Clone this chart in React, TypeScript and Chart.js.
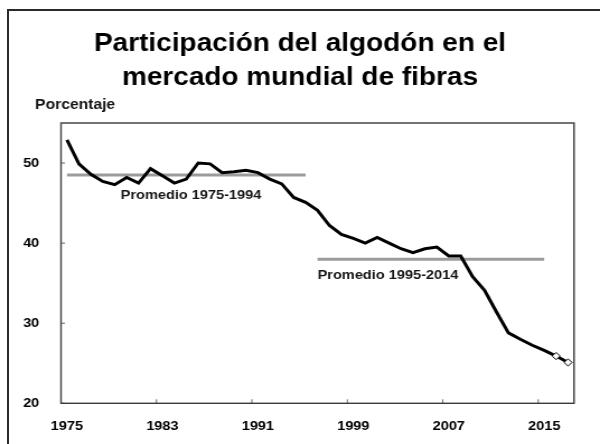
import React, { useEffect, useRef } from 'react';
import { Chart, registerables } from 'chart.js';

Chart.register(...registerables);

// ---- data ----
const titleLines = ['Participación del algodón en el', 'mercado mundial de fibras'];
const yAxisTitle = 'Porcentaje';

const years = [
  '1975', '1976', '1977', '1978', '1979', '1980', '1981', '1982', '1983', '1984',
  '1985', '1986', '1987', '1988', '1989', '1990', '1991', '1992', '1993', '1994',
  '1995', '1996', '1997', '1998', '1999', '2000', '2001', '2002', '2003', '2004',
  '2005', '2006', '2007', '2008', '2009', '2010', '2011', '2012', '2013', '2014',
  '2015', '2016', '2017',
];

const cottonShare = [
  52.9, 49.9, 48.6, 47.7, 47.3, 48.2, 47.5, 49.3, 48.4, 47.5,
  48.0, 50.0, 49.9, 48.8, 48.9, 49.1, 48.8, 48.0, 47.4, 45.7,
  45.1, 44.1, 42.2, 41.1, 40.6, 40.0, 40.7, 40.0, 39.3, 38.8,
  39.3, 39.5, 38.4, 38.4, 35.8, 34.1, 31.4, 28.8, 28.0, 27.25,
  26.6, 25.9, 25.1,
];

const projectedYears = ['2016', '2017'];

const averageLabels = ['Promedio 1975-1994', 'Promedio 1995-2014'];
const averageValues = [48.5, 38.0];
const averageFrom = ['1975', '1996'];
const averageTo = ['1995', '2015'];
// where each average label sits (category index, value of text baseline)
const averageLabelIndex = [4.5, 21];
const averageLabelValue = [45.5, 35.55];

const xTickLabels = ['1975', '1983', '1991', '1999', '2007', '2015'];
const yTickValues = [20, 30, 40, 50];
const yMin = 20;
const yMax = 55;

// ---- layout ----
const CANVAS_W = 536; // drawn width, displayed stretched to 600px like the reference
const STRETCH = 600 / CANVAS_W;
const FONT = "'Liberation Sans', Arial, Helvetica, sans-serif";
const RIGHT_GAP = 23.2;

export default function App() {
  const ref = useRef<HTMLCanvasElement>(null);

  useEffect(() => {
    const canvas = ref.current;
    if (!canvas) return;

    const avgDatasets = averageValues.map((v, k) => {
      const from = years.indexOf(averageFrom[k]);
      const to = years.indexOf(averageTo[k]);
      return {
        label: averageLabels[k],
        data: years.map((_, i) => (i >= from && i <= to ? v : null)),
        borderColor: '#9b9b9b',
        borderWidth: 3,
        pointRadius: 0,
        spanGaps: false,
        order: 2,
      };
    });

    const decor = {
      id: 'decor',
      afterDatasetsDraw(chart: any) {
        const { ctx, chartArea: a, scales } = chart;
        const x = scales.x;
        const y = scales.y;
        ctx.save();
        // inward tick marks
        ctx.strokeStyle = '#666';
        ctx.lineWidth = 1;
        ctx.beginPath();
        xTickLabels.forEach((l) => {
          const i = years.indexOf(l);
          if (i <= 0) return;
          const px = x.getPixelForValue(i - 0.5);
          ctx.moveTo(px, a.bottom);
          ctx.lineTo(px, a.bottom - 4);
        });
        yTickValues.forEach((v) => {
          const py = y.getPixelForValue(v);
          ctx.moveTo(a.left, py);
          ctx.lineTo(a.left + 4 / STRETCH, py);
        });
        ctx.stroke();
        // plot box
        ctx.strokeStyle = '#3a3a3a';
        ctx.lineWidth = 1.4;
        ctx.strokeRect(a.left, a.top, a.right - a.left, a.bottom - a.top);
        // average labels
        ctx.fillStyle = '#151515';
        ctx.textAlign = 'left';
        ctx.textBaseline = 'alphabetic';
        ctx.font = `bold 13px ${FONT}`;
        averageLabels.forEach((t, k) => {
          ctx.fillText(t, x.getPixelForValue(averageLabelIndex[k]), y.getPixelForValue(averageLabelValue[k]));
        });
        // y axis title
        ctx.font = `bold 14px ${FONT}`;
        ctx.fillText(yAxisTitle, a.left - 23.2, 109.3);
        ctx.restore();
      },
    };

    const chart = new Chart(canvas, {
      type: 'line',
      data: {
        labels: years,
        datasets: [
          {
            label: 'Participación del algodón',
            data: cottonShare,
            borderColor: '#000',
            borderWidth: 3,
            tension: 0,
            order: 1,
            pointStyle: 'rectRot',
            pointRadius: (c: any) => (projectedYears.includes(years[c.dataIndex]) ? 3.6 : 0),
            pointBackgroundColor: '#fff',
            pointBorderColor: '#000',
            pointBorderWidth: 1,
          },
          ...avgDatasets,
        ] as any,
      },
      options: {
        responsive: false,
        animation: false,
        devicePixelRatio: 1,
        layout: { padding: 0 },
        plugins: {
          legend: { display: false },
          tooltip: { enabled: false },
          title: {
            display: true,
            text: titleLines,
            color: '#000',
            font: { family: FONT, size: 25, weight: 'bold', lineHeight: '34px' } as any,
            padding: { top: 27, bottom: 28 },
          },
        },
        scales: {
          x: {
            type: 'category',
            offset: true,
            grid: { display: false, offset: true },
            border: { display: false },
            ticks: {
              autoSkip: false,
              maxRotation: 0,
              minRotation: 0,
              padding: 7,
              color: '#000',
              font: { family: FONT, size: 13, weight: 'bold' },
              callback: (_v: any, i: number) => (xTickLabels.includes(years[i]) ? years[i] : ''),
            },
            afterFit: (s: any) => {
              s.height = 40.7;
            },
          },
          y: {
            min: yMin,
            max: yMax,
            grid: { display: false },
            border: { display: false },
            afterBuildTicks: (s: any) => {
              s.ticks = yTickValues.map((v) => ({ value: v }));
            },
            ticks: {
              padding: 11.4,
              color: '#000',
              font: { family: FONT, size: 13, weight: 'bold' },
            },
            afterFit: (s: any) => {
              s.width = 54.5;
            },
          },
          // empty spacer on the right, keeps the title centred on the whole canvas
          yRight: {
            position: 'right',
            min: yMin,
            max: yMax,
            grid: { display: false },
            border: { display: false },
            ticks: { display: false },
            afterFit: (s: any) => {
              s.width = RIGHT_GAP;
            },
          },
        },
      },
      plugins: [decor],
    });

    return () => chart.destroy();
  }, []);

  return (
    <>
      <div
        style={{
          position: 'fixed',
          left: 7,
          top: 9,
          right: -30,
          bottom: -30,
          border: '2px solid #2a2a2a',
          background: '#fff',
        }}
      />
      <canvas
        ref={ref}
        width={CANVAS_W}
        height={444}
        style={{ position: 'fixed', left: 0, top: 0, width: '600px', height: '444px' }}
      />
    </>
  );
}
